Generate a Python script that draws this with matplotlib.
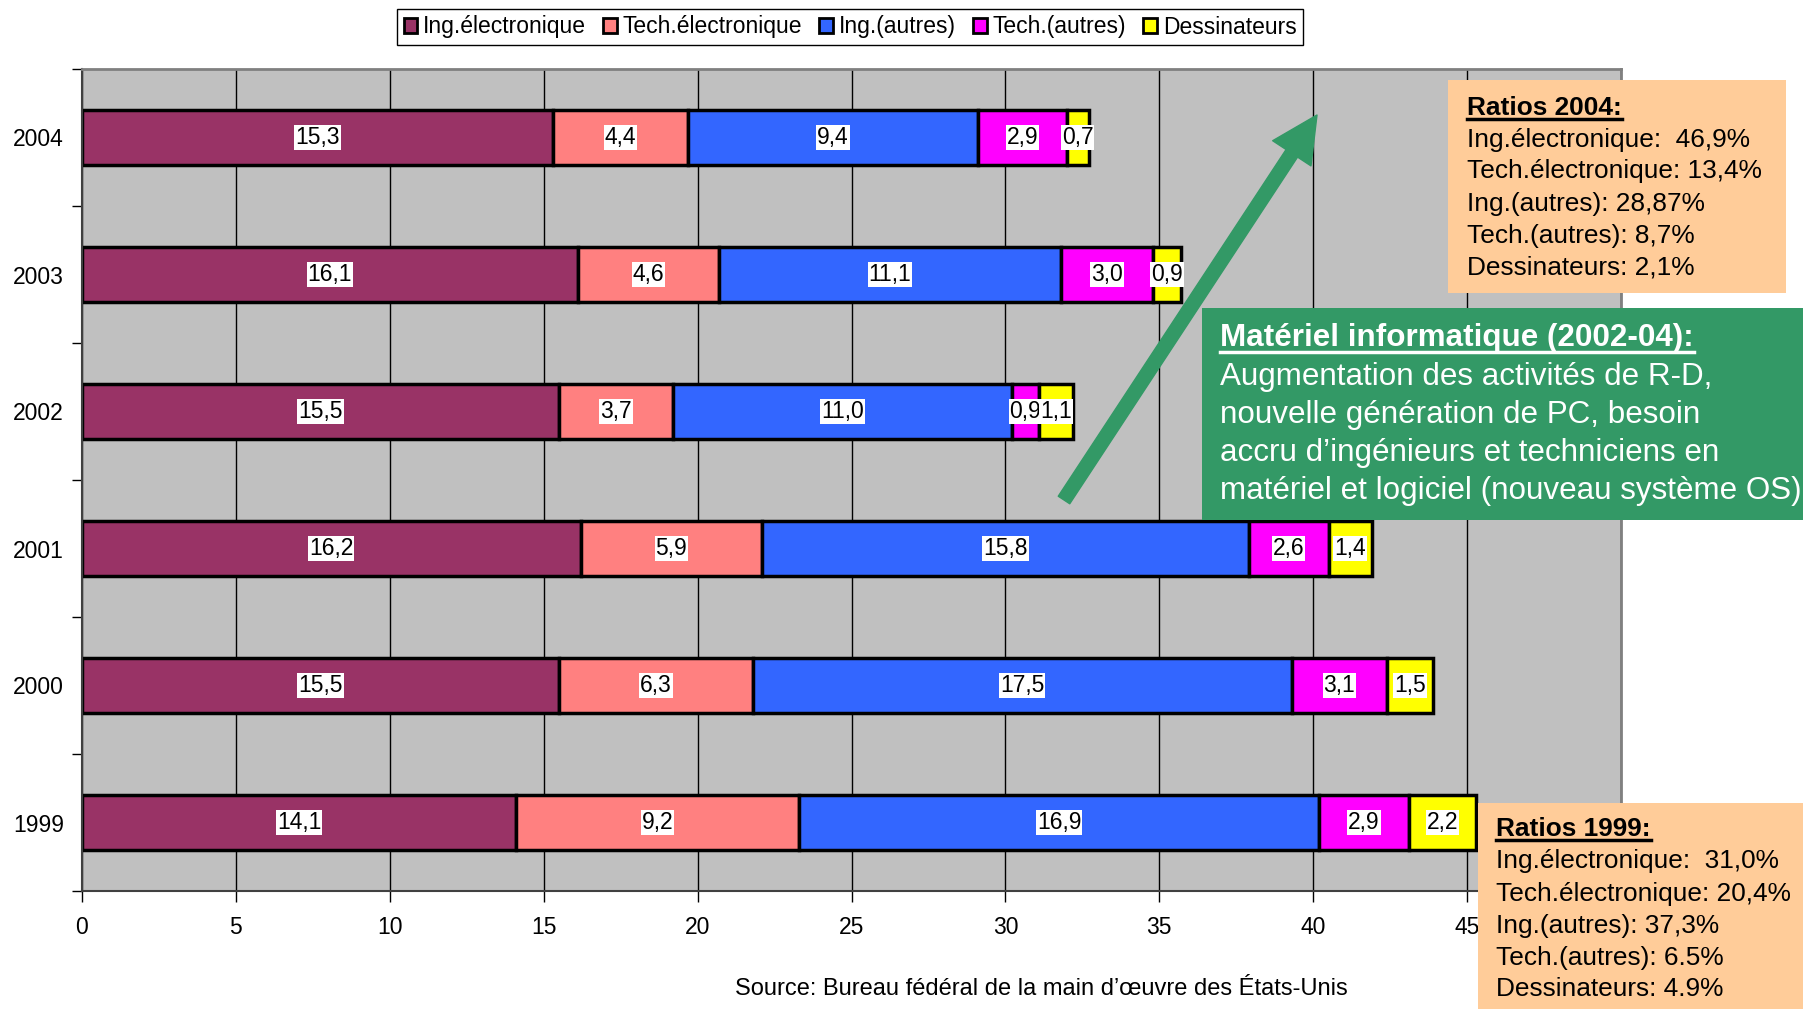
import matplotlib
matplotlib.use("Agg")
import matplotlib.pyplot as plt
import numpy as np
from matplotlib import font_manager
from matplotlib.patches import Patch, Rectangle
from matplotlib.lines import Line2D

plt.rcParams['font.family'] = ['Liberation Sans', 'DejaVu Sans']

# condensed face for the side notes, falls back to regular width
try:
    font_manager.findfont('Liberation Sans Narrow', fallback_to_default=False)
    narrow, k = 'Liberation Sans Narrow', 1.0
except ValueError:
    narrow, k = 'Liberation Sans', 0.82

years = ['1999', '2000', '2001', '2002', '2003', '2004']
series = ['Ing.électronique', 'Tech.électronique', 'Ing.(autres)', 'Tech.(autres)', 'Dessinateurs']
colors = ['#993366', '#FF8080', '#3366FF', '#FF00FF', '#FFFF00']

ing_elec = [14.1, 15.5, 16.2, 15.5, 16.1, 15.3]
tech_elec = [9.2, 6.3, 5.9, 3.7, 4.6, 4.4]
ing_autres = [16.9, 17.5, 15.8, 11.0, 11.1, 9.4]
tech_autres = [2.9, 3.1, 2.6, 0.9, 3.0, 2.9]
dessinateurs = [2.2, 1.5, 1.4, 1.1, 0.9, 0.7]

ratios_2004 = ['Ing.électronique:  46,9%', 'Tech.électronique: 13,4%', 'Ing.(autres): 28,87%',
               'Tech.(autres): 8,7%', 'Dessinateurs: 2,1%']
ratios_1999 = ['Ing.électronique:  31,0%', 'Tech.électronique: 20,4%', 'Ing.(autres): 37,3%',
               'Tech.(autres): 6.5%', 'Dessinateurs: 4.9%']
note_lines = ['Augmentation des activités de R-D,', 'nouvelle génération de PC, besoin',
              'accru d’ingénieurs et techniciens en', 'matériel et logiciel (nouveau système OS)']

W, H = 1803, 1009
fig = plt.figure(figsize=(W / 100, H / 100), dpi=100)
ax = fig.add_axes([82 / W, 1 - 891 / H, (1621 - 82) / W, (891 - 69) / H])
ax.set_facecolor('#C0C0C0')

y = np.arange(len(years))
left = np.zeros(len(years))
for vals, c in zip([ing_elec, tech_elec, ing_autres, tech_autres, dessinateurs], colors):
    vals = np.array(vals)
    ax.barh(y, vals, left=left, height=0.4, color=c, edgecolor='black', linewidth=2.5, zorder=2)
    for yi, l, v in zip(y, left, vals):
        ax.text(l + v / 2, yi, f"{v:.1f}".replace('.', ','), ha='center', va='center',
                fontsize=16.5, zorder=3,
                bbox=dict(boxstyle='square,pad=0.04', fc='white', ec='none'))
    left += vals

ax.set_xlim(0, 50)
ax.set_ylim(-0.5, 5.5)
ax.set_xticks(np.arange(0, 51, 5))
ax.set_xticklabels([str(v) for v in range(0, 46, 5)] + [''])
ax.tick_params(axis='x', labelsize=16.5, length=8, width=1, pad=10)
ax.set_yticks(y)
ax.set_yticklabels(years)
ax.set_yticks(np.arange(-0.5, 6, 1), minor=True)
ax.tick_params(axis='y', which='major', length=0, labelsize=16.5, pad=13)
ax.tick_params(axis='y', which='minor', length=7, width=1)
ax.set_axisbelow(True)
ax.xaxis.grid(True, color='black', linewidth=1)
for s in ['top', 'right']:
    ax.spines[s].set_color('#808080')
    ax.spines[s].set_linewidth(2)
ax.spines['left'].set_linewidth(1.5)
ax.spines['bottom'].set_linewidth(1.5)
ax.spines['left'].set_color('#404040')
ax.spines['bottom'].set_color('#404040')

handles = [Patch(facecolor=c, edgecolor='black', linewidth=2) for c in colors]
fig.legend(handles, series, loc='center', bbox_to_anchor=(850 / W, 1 - 27 / H), ncol=5,
           fontsize=16.5, frameon=True, fancybox=False, edgecolor='black', framealpha=1,
           handlelength=0.6, handleheight=0.6, handletextpad=0.25, columnspacing=0.75,
           borderpad=0.3, borderaxespad=0)

fig.text(1041 / W, 1 - 989 / H, 'Source: Bureau fédéral de la main d’œuvre des États-Unis',
         ha='center', va='center', fontsize=17)

# growth arrow pointing up towards the 2004 ratios
ax.annotate('', xy=(1317 / W, 1 - 115 / H), xytext=(1064 / W, 1 - 500 / H),
            xycoords='figure fraction', textcoords='figure fraction',
            arrowprops=dict(arrowstyle='simple,head_length=1.1,head_width=1.1,tail_width=0.33',
                            mutation_scale=30, color='#339966', shrinkA=0, shrinkB=0))

renderer = fig.canvas.get_renderer()


def underline(t, color):
    bb = t.get_window_extent(renderer)
    fig.add_artist(Line2D([bb.x0, bb.x1], [bb.y0 + 1, bb.y0 + 1], transform=None,
                          color=color, linewidth=2.5))


def note_box(x0, y0, x1, y1, face, tx, lines_y, title, lines, color, size):
    fig.add_artist(Rectangle((x0 / W, 1 - y1 / H), (x1 - x0) / W, (y1 - y0) / H,
                             transform=fig.transFigure, facecolor=face, edgecolor='none', zorder=1))
    t = fig.text(tx / W, 1 - lines_y[0] / H, title, fontsize=size, fontweight='bold',
                 color=color, va='center', ha='left', family=[narrow, 'DejaVu Sans'], zorder=3)
    underline(t, color)
    for ly, s in zip(lines_y[1:], lines):
        fig.text(tx / W, 1 - ly / H, s, fontsize=size, color=color, va='center', ha='left',
                 family=[narrow, 'DejaVu Sans'], zorder=3)


note_box(1448, 80, 1786, 293, '#FFCC99', 1467, [108, 140, 171, 204, 236, 268],
         'Ratios 2004:', ratios_2004, 'black', 23 * k)
note_box(1478, 803, 1810, 1015, '#FFCC99', 1496, [829, 861, 894, 926, 958, 989],
         'Ratios 1999:', ratios_1999, 'black', 23 * k)
note_box(1202, 308, 1810, 520, '#339966', 1220, [338, 377, 415, 453, 491],
         'Matériel informatique (2002-04):', note_lines, 'white', 27.5 * k)

fig.savefig('out.png', dpi=100)
